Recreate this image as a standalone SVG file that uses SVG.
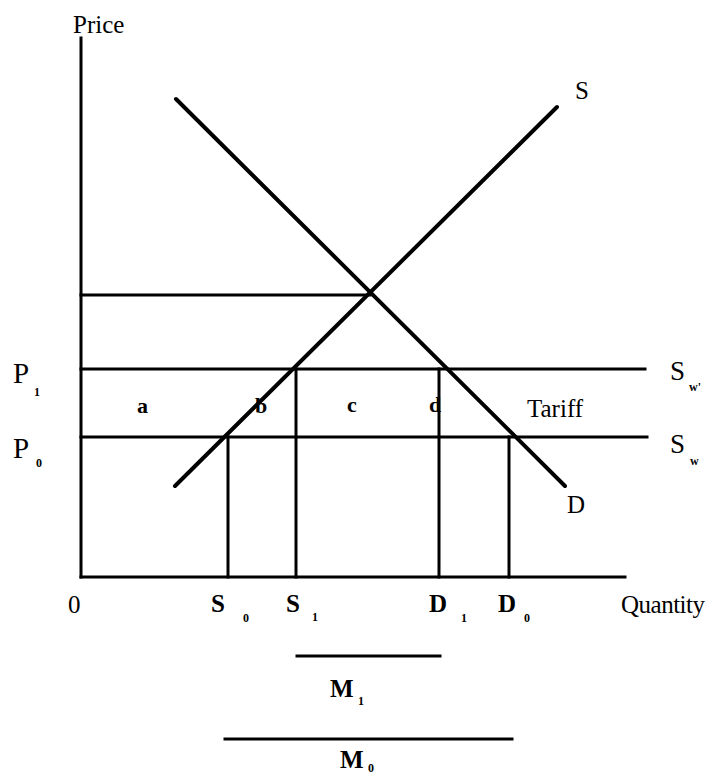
<svg xmlns="http://www.w3.org/2000/svg" width="706" height="776" viewBox="0 0 706 776">
<style>
.ln{stroke:#000;stroke-width:3;fill:none;stroke-linecap:square}
.cv{stroke:#000;stroke-width:4;fill:none;stroke-linecap:round}
.t{font-family:"Liberation Serif","Times New Roman",serif;fill:#000}
.lb{font-size:25px}
.bd{font-weight:bold}
.sub{font-size:12px;font-weight:bold}
</style>
<rect width="706" height="776" fill="#fff"/>
<g id="axes">
<line class="ln" x1="81" y1="38" x2="81" y2="577"/>
<line class="ln" x1="81" y1="577" x2="625" y2="577"/>
<text class="t lb" x="73" y="33">Price</text>
<text class="t lb" x="68" y="613">0</text>
<text class="t lb" x="621" y="613" textLength="84">Quantity</text>
</g>
<g id="connectors">
<line class="ln" x1="81" y1="295" x2="370" y2="295"/>
<line class="ln" x1="81" y1="369" x2="645" y2="369"/>
<line class="ln" x1="81" y1="437" x2="647" y2="437"/>
<line class="ln" x1="228" y1="437" x2="228" y2="577"/>
<line class="ln" x1="296" y1="369" x2="296" y2="577"/>
<line class="ln" x1="439" y1="369" x2="439" y2="577"/>
<line class="ln" x1="509" y1="437" x2="509" y2="577"/>
<line class="cv" x1="175" y1="486" x2="557" y2="107"/>
<line class="cv" x1="176" y1="99" x2="565" y2="486"/>
<line class="ln" x1="297" y1="656" x2="440" y2="656"/>
<line class="ln" x1="225" y1="739" x2="512" y2="739"/>
</g>
<g id="supply">
<text class="t lb" x="575" y="99">S</text>
</g>
<g id="demand">
<text class="t lb" x="567" y="513">D</text>
</g>
<g id="price-levels">
<text class="t" font-size="29" x="13" y="383">P</text>
<text class="t sub" x="34" y="396">1</text>
<text class="t" font-size="29" x="13" y="458">P</text>
<text class="t sub" x="36" y="467">0</text>
<text class="t" font-size="27" x="670" y="380">S</text>
<text class="t sub" x="689" y="391">w'</text>
<text class="t" font-size="27" x="670" y="453">S</text>
<text class="t sub" x="690" y="465">w</text>
<text class="t lb" x="527" y="417">Tariff</text>
</g>
<g id="areas">
<text class="t bd" font-size="22" x="137" y="413">a</text>
<text class="t bd" font-size="22" x="255" y="413">b</text>
<text class="t bd" font-size="22" x="347" y="412">c</text>
<text class="t bd" font-size="22" x="429" y="412">d</text>
</g>
<g id="quantities">
<text class="t lb bd" x="211" y="612">S</text>
<text class="t sub" x="243" y="622">0</text>
<text class="t lb bd" x="286" y="612">S</text>
<text class="t sub" x="312" y="621">1</text>
<text class="t lb bd" x="429" y="612">D</text>
<text class="t sub" x="461" y="622">1</text>
<text class="t lb bd" x="498" y="612">D</text>
<text class="t sub" x="524" y="622">0</text>
</g>
<g id="imports">
<text class="t lb bd" x="330" y="697">M</text>
<text class="t sub" x="358" y="705">1</text>
<text class="t lb bd" x="340" y="768">M</text>
<text class="t sub" x="368" y="772">0</text>
</g>
</svg>
